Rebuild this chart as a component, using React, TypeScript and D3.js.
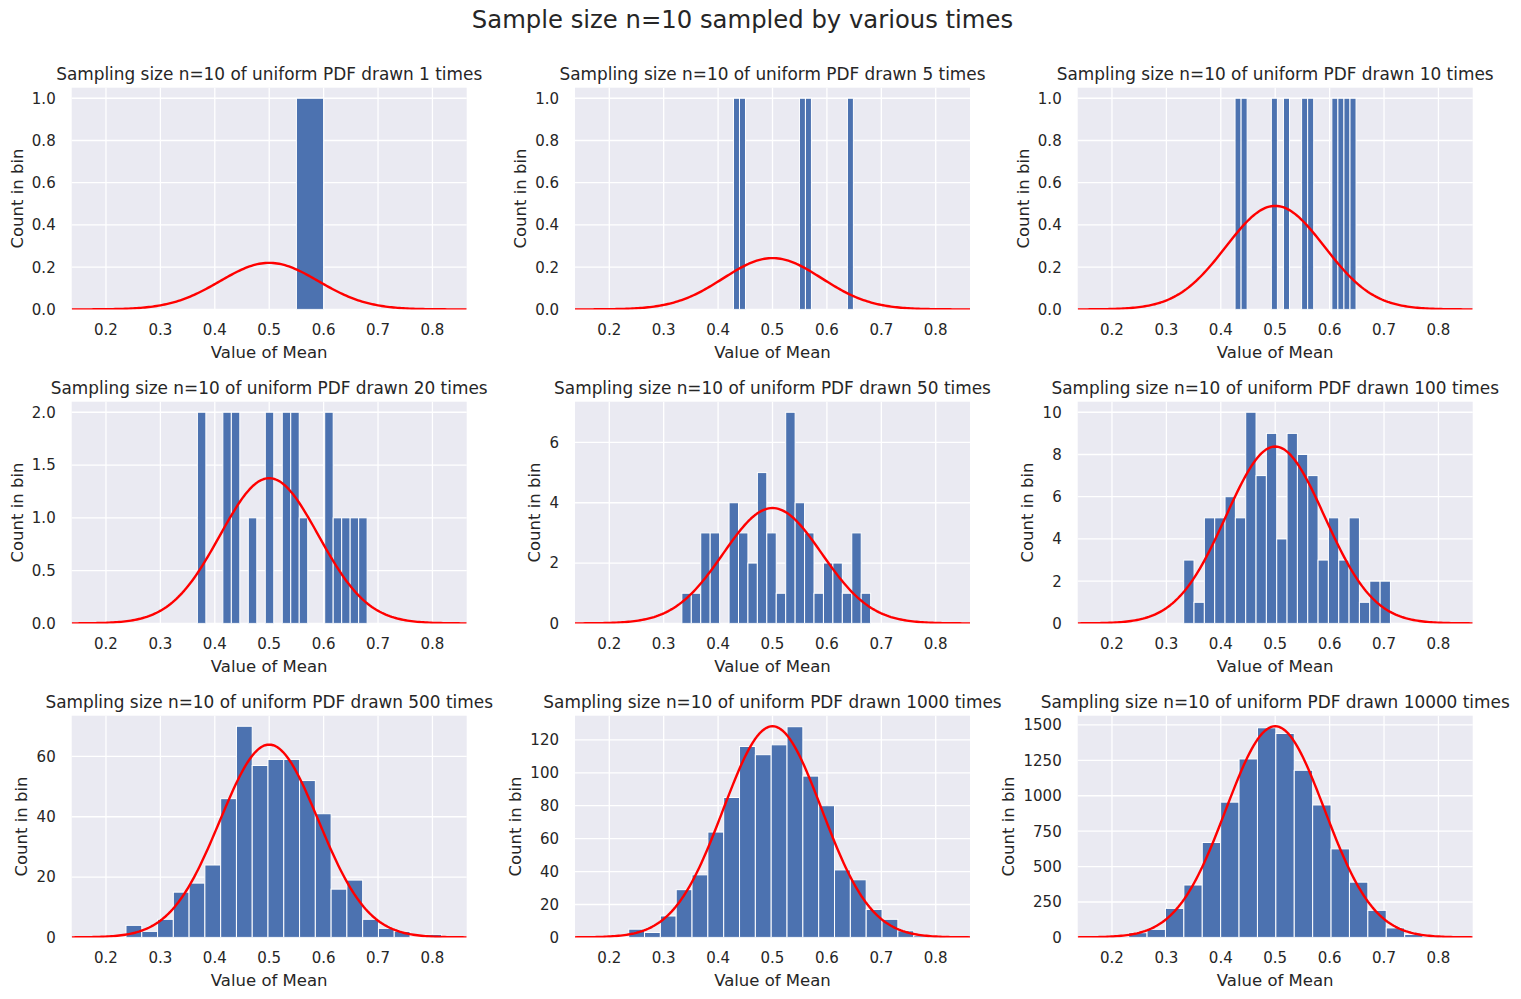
import React from 'react';
import * as d3 from 'd3';

// number of sample means drawn for each panel
const DRAWS = [1, 5, 10, 20, 50, 100, 500, 1000, 10000];

// histogram bins: first edge and width for each panel (20 bins each)
const BIN_START = [0.1, 0.4283, 0.4262, 0.368, 0.3334, 0.3318, 0.2368, 0.2357, 0.163];
const BIN_WIDTH = [0.05, 0.01102, 0.01112, 0.0156, 0.01735, 0.019, 0.029, 0.0291, 0.03382];

const COUNTS_1 = [0, 0, 0, 0, 0, 0, 0, 0, 0, 1, 0, 0, 0, 0, 0, 0, 0, 0, 0, 0];
const COUNTS_5 = [1, 1, 0, 0, 0, 0, 0, 0, 0, 0, 0, 1, 1, 0, 0, 0, 0, 0, 0, 1];
const COUNTS_10 = [1, 1, 0, 0, 0, 0, 1, 0, 1, 0, 0, 1, 1, 0, 0, 0, 1, 1, 1, 1];
const COUNTS_20 = [2, 0, 0, 2, 2, 0, 1, 0, 2, 0, 2, 2, 1, 0, 0, 2, 1, 1, 1, 1];
const COUNTS_50 = [1, 1, 3, 3, 0, 4, 3, 2, 5, 3, 1, 7, 4, 3, 1, 2, 2, 1, 3, 1];
const COUNTS_100 = [3, 1, 5, 5, 6, 5, 10, 7, 9, 4, 9, 8, 7, 3, 5, 3, 5, 1, 2, 2];
const COUNTS_500 = [4, 2, 6, 15, 18, 24, 46, 70, 57, 59, 59, 52, 41, 16, 19, 6, 3, 2, 0, 1];
const COUNTS_1000 = [5, 3, 13, 29, 38, 64, 85, 116, 111, 117, 128, 98, 80, 41, 35, 17, 11, 4, 1, 1];
const COUNTS_10000 = [1, 6, 33, 57, 205, 370, 670, 955, 1260, 1480, 1440, 1180, 935, 625, 390, 191, 67, 21, 4, 1];

const COUNTS = [COUNTS_1, COUNTS_5, COUNTS_10, COUNTS_20, COUNTS_50, COUNTS_100, COUNTS_500, COUNTS_1000, COUNTS_10000];

const X_TICKS = [0.2, 0.3, 0.4, 0.5, 0.6, 0.7, 0.8];
const Y_TICKS = [
  [0, 0.2, 0.4, 0.6, 0.8, 1.0],
  [0, 0.2, 0.4, 0.6, 0.8, 1.0],
  [0, 0.2, 0.4, 0.6, 0.8, 1.0],
  [0, 0.5, 1.0, 1.5, 2.0],
  [0, 2, 4, 6],
  [0, 2, 4, 6, 8, 10],
  [0, 20, 40, 60],
  [0, 20, 40, 60, 80, 100, 120],
  [0, 250, 500, 750, 1000, 1250, 1500],
];
const Y_DECIMALS = [1, 1, 1, 1, 0, 0, 0, 0, 0];

// normal approximation for the mean of n=10 uniform draws
const MU = 0.5;
const SIGMA = 0.0905;
const X_DOMAIN = [0.137, 0.863];

// layout
const W = 1521;
const H = 999;
const COL_LEFT = [71.7, 575, 1077.7];
const ROW_TOP = [87.7, 401.7, 715.7];
const AX_W = 395;
const AX_H = 221.7;
const FONT = '"DejaVu Sans", sans-serif';
const TEXT = '#262626';
const BG = '#eaeaf2';
const BAR = '#4c72b0';

const normPdf = (x: number) =>
  Math.exp(-0.5 * ((x - MU) / SIGMA) ** 2) / (SIGMA * Math.sqrt(2 * Math.PI));

// rough DejaVu Sans width for tick labels (digits and dot)
const labelWidth = (s: string, size: number) =>
  s.split('').reduce((w, ch) => w + (ch === '.' ? 0.318 : 0.636), 0) * size;

const Panel: React.FC<{ idx: number }> = ({ idx }) => {
  const left = COL_LEFT[idx % 3];
  const top = ROW_TOP[Math.floor(idx / 3)];
  const counts = COUNTS[idx];
  const lo = BIN_START[idx];
  const bw = BIN_WIDTH[idx];
  const scale = DRAWS[idx] * bw;

  const x = d3.scaleLinear().domain(X_DOMAIN).range([left, left + AX_W]);
  const peak = Math.max(d3.max(counts) as number, normPdf(MU) * scale);
  const y = d3.scaleLinear().domain([0, peak * 1.05]).range([top + AX_H, top]);

  const curvePts = d3.range(0, 201).map((i) => {
    const v = X_DOMAIN[0] + ((X_DOMAIN[1] - X_DOMAIN[0]) * i) / 200;
    return [v, normPdf(v) * scale] as [number, number];
  });
  const line = d3.line<[number, number]>().x((d) => x(d[0])).y((d) => y(d[1]));

  const fmt = (v: number) => v.toFixed(Y_DECIMALS[idx]);
  const yLabels = Y_TICKS[idx].map(fmt);
  const maxW = d3.max(yLabels, (s) => labelWidth(s, 15)) as number;
  const clipId = `clip-${idx}`;

  return (
    <g>
      <defs>
        <clipPath id={clipId}>
          <rect x={left} y={top} width={AX_W} height={AX_H} />
        </clipPath>
      </defs>
      <rect x={left} y={top} width={AX_W} height={AX_H} fill={BG} />
      {X_TICKS.map((t) => (
        <line key={`gx${t}`} x1={x(t)} x2={x(t)} y1={top} y2={top + AX_H} stroke="#fff" strokeWidth={1.3} />
      ))}
      {Y_TICKS[idx].map((t) => (
        <line key={`gy${t}`} x1={left} x2={left + AX_W} y1={y(t)} y2={y(t)} stroke="#fff" strokeWidth={1.3} />
      ))}
      <g clipPath={`url(#${clipId})`}>
        {counts.map((c, i) =>
          c > 0 ? (
            <rect
              key={i}
              x={x(lo + i * bw)}
              width={x(lo + (i + 1) * bw) - x(lo + i * bw)}
              y={y(c)}
              height={y(0) - y(c)}
              fill={BAR}
              stroke="#fff"
              strokeWidth={1}
            />
          ) : null
        )}
        <path d={line(curvePts) as string} fill="none" stroke="#ff0000" strokeWidth={2.4} strokeLinejoin="round" />
      </g>
      {X_TICKS.map((t) => (
        <text key={`tx${t}`} x={x(t)} y={top + AX_H + 26} textAnchor="middle" fontSize={15} fill={TEXT}>
          {t.toFixed(1)}
        </text>
      ))}
      {Y_TICKS[idx].map((t, i) => (
        <text key={`ty${t}`} x={left - 16} y={y(t)} dy="0.36em" textAnchor="end" fontSize={15} fill={TEXT}>
          {yLabels[i]}
        </text>
      ))}
      <text x={left + AX_W / 2} y={top + AX_H + 49} textAnchor="middle" fontSize={16.5} fill={TEXT}>
        Value of Mean
      </text>
      <text
        transform={`translate(${left - 31 - maxW},${top + AX_H / 2}) rotate(-90)`}
        dy="0.35em"
        textAnchor="middle"
        fontSize={16.5}
        fill={TEXT}
      >
        Count in bin
      </text>
      <text x={left + AX_W / 2} y={top - 8} textAnchor="middle" fontSize={16.9} fill={TEXT}>
        {`Sampling size n=10 of uniform PDF drawn ${DRAWS[idx]} times`}
      </text>
    </g>
  );
};

export default function App() {
  return (
    <svg
      width={W}
      height={H}
      style={{ position: 'absolute', left: 0, top: 0, background: '#fff' }}
      fontFamily={FONT}
    >
      <text x={742.5} y={28} textAnchor="middle" fontSize={24.3} fill={TEXT}>
        Sample size n=10 sampled by various times
      </text>
      {DRAWS.map((_, i) => (
        <Panel key={i} idx={i} />
      ))}
    </svg>
  );
}
